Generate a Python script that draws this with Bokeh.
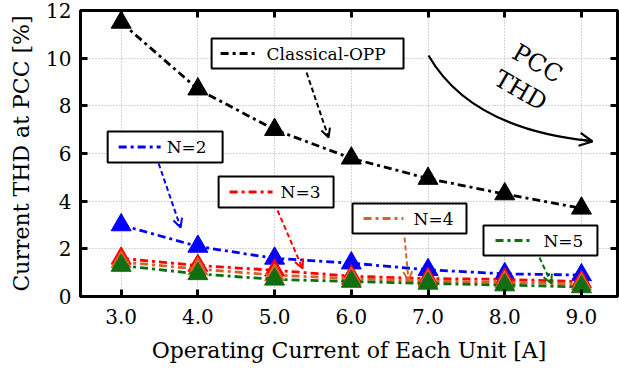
from bokeh.plotting import figure
from bokeh.models import Range1d, LinearAxis, FixedTicker, Label, Arrow, OpenHead
from bokeh.embed import file_html
from bokeh.resources import INLINE

# ---- data ----
current = [3.0, 4.0, 5.0, 6.0, 7.0, 8.0, 9.0]
thd_classical = [11.5, 8.7, 7.0, 5.8, 4.95, 4.3, 3.7]
thd_n2 = [3.0, 2.1, 1.6, 1.4, 1.12, 0.95, 0.9]
thd_n3 = [1.6, 1.3, 1.1, 0.85, 0.75, 0.72, 0.62]
thd_n4 = [1.45, 1.15, 0.9, 0.75, 0.65, 0.6, 0.52]
thd_n5 = [1.3, 0.95, 0.72, 0.63, 0.55, 0.48, 0.4]
series_names = ["Classical-OPP", "N=2", "N=3", "N=4", "N=5"]
series_colors = ["#000000", "#0000ff", "#ff0000", "#d9622b", "#0f6e0f"]
x_ticks = [3.0, 4.0, 5.0, 6.0, 7.0, 8.0, 9.0]
x_tick_labels = ["3.0", "4.0", "5.0", "6.0", "7.0", "8.0", "9.0"]
y_ticks = [0, 2, 4, 6, 8, 10, 12]
x_label = "Operating Current of Each Unit [A]"
y_label = "Current THD at PCC [%]"

FONT = "DejaVu Serif"
DASHDOT = "8 4 3 4"

p = figure(width=619, height=373, output_backend="svg", toolbar_location=None,
           x_range=Range1d(2.47, 9.47), y_range=Range1d(0, 12),
           min_border_left=80, min_border_right=2, min_border_top=10, min_border_bottom=77)
p.background_fill_color = "white"
p.border_fill_color = "white"
p.outline_line_color = "black"
p.outline_line_width = 3

# grid
for g in (p.xgrid, p.ygrid):
    g.grid_line_color = "#aaaaaa"
    g.grid_line_dash = "1 2"
    g.grid_line_width = 1
p.xgrid.ticker = FixedTicker(ticks=x_ticks)
p.ygrid.ticker = FixedTicker(ticks=y_ticks)

def style_axis(ax, ticks):
    ax.ticker = FixedTicker(ticks=ticks)
    ax.axis_line_color = "black"
    ax.axis_line_width = 3
    ax.major_tick_in = 7
    ax.major_tick_out = 0
    ax.major_tick_line_width = 3
    ax.minor_tick_line_color = None
    ax.major_label_text_font = FONT
    ax.major_label_text_font_size = "20px"
    ax.major_label_text_color = "black"
    ax.axis_label_text_font = FONT
    ax.axis_label_text_font_size = "22px"
    ax.axis_label_text_font_style = "normal"
    ax.axis_label_text_color = "black"

style_axis(p.xaxis[0], x_ticks)
p.xaxis[0].major_label_overrides = {t: s for t, s in zip(x_ticks, x_tick_labels)}
p.xaxis[0].major_label_standoff = 12
p.xaxis[0].axis_label = x_label
p.xaxis[0].axis_label_standoff = 11
style_axis(p.yaxis[0], y_ticks)
p.yaxis[0].major_label_standoff = 9
p.yaxis[0].axis_label = y_label
p.yaxis[0].axis_label_standoff = 9

top = LinearAxis()
style_axis(top, x_ticks)
top.major_label_overrides = {t: "" for t in x_ticks}
top.major_label_standoff = 0
p.add_layout(top, "above")
right = LinearAxis()
style_axis(right, y_ticks)
right.major_label_overrides = {t: "" for t in y_ticks}
right.major_label_standoff = 0
p.add_layout(right, "right")

# ---- series ----
all_series = [thd_classical, thd_n2, thd_n3, thd_n4, thd_n5]
for vals, col in zip(all_series, series_colors):
    p.line(current, vals, line_color=col, line_width=2.8, line_dash=DASHDOT)
    p.scatter(current, vals, marker="triangle", size=20, fill_color=col, line_color=col)

# ---- annotation boxes (pixel positions converted to data space) ----
def dx(px):
    return 3 + (px - 120.5) / 76.75

def dy(py):
    return (296 - py) / (286 / 12)

boxes = [(211, 403, 38, 68), (107, 222, 131, 162), (218, 333, 176, 207),
         (352, 466, 203, 233), (483, 597, 225, 255)]
samples = [(220, 258), (118, 160), (229, 272), (363, 403), (495, 530)]
text_left = [266, 166, 280, 413, 543]
arrows = [((306, 72), (328, 137)), ((158, 163), (180, 227)), ((277, 210), (302, 268)),
          ((404, 237), (408, 280)), ((539, 257), (551, 283))]

for name, col, (l, r, t, b), (s0, s1), tl, (a0, a1) in zip(
        series_names, series_colors, boxes, samples, text_left, arrows):
    p.quad(left=[dx(l)], right=[dx(r)], top=[dy(t)], bottom=[dy(b)],
           fill_color="white", line_color="black", line_width=2)
    ym = (t + b) / 2
    p.line([dx(s0), dx(s1)], [dy(ym), dy(ym)], line_color=col, line_width=2.8, line_dash=DASHDOT)
    p.add_layout(Label(x=dx(tl), y=dy(ym), text=name, text_font=FONT, text_font_size="17px",
                       text_baseline="middle", text_align="left", text_color="black"))
    p.add_layout(Arrow(x_start=dx(a0[0]), y_start=dy(a0[1]), x_end=dx(a1[0]), y_end=dy(a1[1]),
                       line_color=col, line_width=2, line_dash="5 3",
                       end=OpenHead(size=9, line_color=col, line_width=2)))

# ---- curved arrow and PCC THD text ----
p.quadratic(x0=[dx(428)], y0=[dy(55)], cx=[dx(470)], cy=[dy(128)], x1=[dx(590)], y1=[dy(140.5)],
            line_color="black", line_width=2.2)
p.add_layout(Arrow(x_start=dx(580), y_start=dy(139), x_end=dx(592), y_end=dy(141),
                   line_color="black", line_width=2.2,
                   end=OpenHead(size=13, line_color="black", line_width=2.2)))
p.add_layout(Label(x=dx(537), y=dy(63), text="PCC", text_font=FONT, text_font_size="24px",
                   text_color="black",
                   angle=-30, angle_units="deg", text_align="center", text_baseline="middle"))
p.add_layout(Label(x=dx(520), y=dy(90), text="THD", text_font=FONT, text_font_size="24px",
                   text_color="black",
                   angle=-30, angle_units="deg", text_align="center", text_baseline="middle"))

open("out.html", "w").write(file_html(p, INLINE))
